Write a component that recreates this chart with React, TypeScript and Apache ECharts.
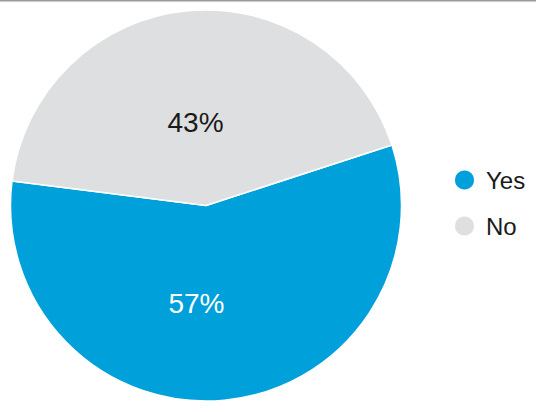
import React, { useEffect, useRef } from "react";
import * as echarts from "echarts";

const categories = ["Yes", "No"];
const values = [57, 43];
const colors = ["#00a0da", "#dedfe1"];
const labelColors = ["#ffffff", "#1a1a1a"];
const labelShift = [
  { dx: -19, dy: -2 },
  { dx: -1, dy: 17 },
];

export default function App() {
  const ref = useRef<HTMLDivElement>(null);
  useEffect(() => {
    if (!ref.current) return;
    const chart = echarts.init(ref.current, undefined, { renderer: "svg" });
    chart.setOption({
      animation: false,
      backgroundColor: "#ffffff",
      textStyle: { fontFamily: "Liberation Sans, Arial, sans-serif" },
      graphic: [
        {
          type: "rect",
          left: 0,
          top: 0,
          shape: { width: 536, height: 1.5 },
          style: { fill: "#9a9a9a" },
          silent: true,
        },
      ],
      legend: {
        orient: "vertical",
        left: 448,
        top: 163,
        icon: "circle",
        itemWidth: 21,
        itemHeight: 21,
        itemGap: 22,
        data: categories,
        textStyle: {
          fontSize: 24,
          color: "#1a1a1a",
          padding: [0, 0, 0, 6],
          fontFamily: "Liberation Sans, Arial, sans-serif",
        },
      },
      series: [
        {
          type: "pie",
          center: [206, 205.5],
          radius: [0, 195.5],
          startAngle: 18,
          clockwise: true,
          avoidLabelOverlap: false,
          itemStyle: { borderColor: "#ffffff", borderWidth: 1.5 },
          label: {
            show: true,
            position: "inside",
            formatter: "{d}%",
            fontSize: 28,
            fontFamily: "Liberation Sans, Arial, sans-serif",
          },
          labelLine: { show: false },
          emphasis: { disabled: true },
          labelLayout: (p: any) => labelShift[p.dataIndex],
          data: categories.map((name, i) => ({
            name,
            value: values[i],
            itemStyle: { color: colors[i] },
            label: { color: labelColors[i] },
          })),
        },
      ],
    });
    return () => chart.dispose();
  }, []);
  return (
    <div
      ref={ref}
      style={{ position: "fixed", left: 0, top: 0, width: 536, height: 412 }}
    />
  );
}
